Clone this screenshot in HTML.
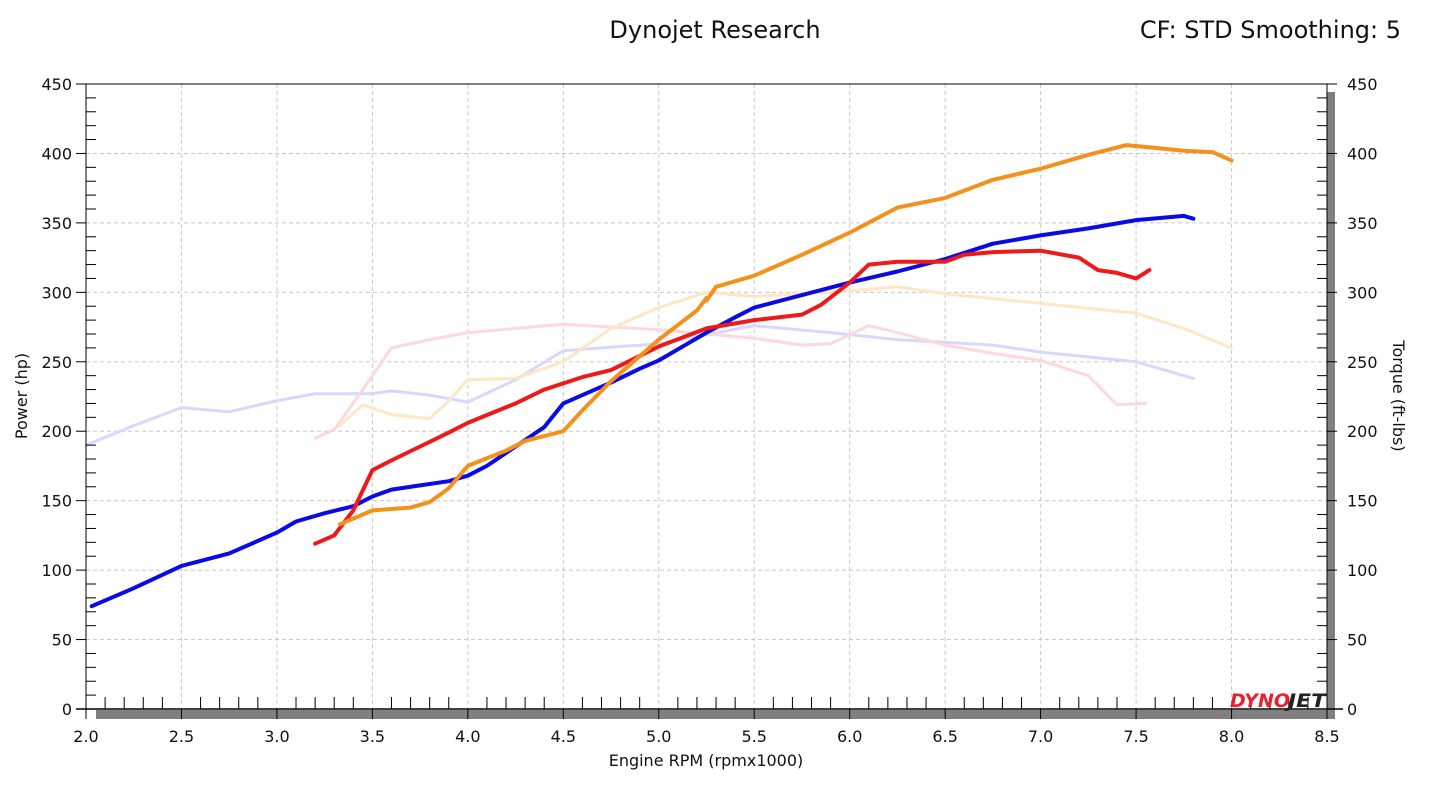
<!DOCTYPE html>
<html><head><meta charset="utf-8"><style>
html,body{margin:0;padding:0;background:#fff;}
svg{display:block;font-family:Tahoma,"DejaVu Sans","Liberation Sans",sans-serif;}
</style></head><body>
<svg id="chart" width="1431" height="804" viewBox="0 0 1431 804">
<text x="715" y="38" font-size="24" text-anchor="middle" fill="#111">Dynojet Research</text>
<text x="1401" y="38" font-size="24" text-anchor="end" fill="#111">CF: STD Smoothing: 5</text>
<text x="706" y="766" font-size="16" text-anchor="middle" fill="#111">Engine RPM (rpmx1000)</text>
<text transform="translate(27,396) rotate(-90)" font-size="16" text-anchor="middle" fill="#111">Power (hp)</text>
<text transform="translate(1393,396) rotate(90)" font-size="16" text-anchor="middle" fill="#111">Torque (ft-lbs)</text>
<g id="grid"></g>
<g id="series"></g>
<g id="axes"></g>
<g><text x="1230" y="707" font-size="19" font-weight="bold" font-style="italic" fill="#e8202f" textLength="60" lengthAdjust="spacingAndGlyphs">DYNO</text><text x="1288" y="707" font-size="19" font-weight="bold" font-style="italic" fill="#222" textLength="38" lengthAdjust="spacingAndGlyphs">JET</text></g>
</svg>
<script>
const xTicks=[2.0,2.5,3.0,3.5,4.0,4.5,5.0,5.5,6.0,6.5,7.0,7.5,8.0,8.5];
const yTicks=[0,50,100,150,200,250,300,350,400,450];
const blueRpm=[2.03,2.25,2.5,2.75,3.0,3.1,3.25,3.4,3.5,3.6,3.75,3.9,4.0,4.1,4.25,4.4,4.5,4.6,4.75,4.9,5.0,5.1,5.25,5.4,5.5,5.75,6.0,6.25,6.5,6.75,7.0,7.25,7.5,7.75,7.8];
const bluePower=[74,87,103,112,127,135,141,146,153,158,161,164,168,175,189,203,220,226,235,245,251,259,271,282,289,298,307,315,324,335,341,346,352,355,353];
const redRpm=[3.2,3.3,3.4,3.5,3.6,3.75,3.9,4.0,4.25,4.4,4.6,4.75,5.0,5.25,5.5,5.75,5.85,6.0,6.1,6.25,6.5,6.6,6.75,7.0,7.2,7.3,7.4,7.5,7.57];
const redPower=[119,125,143,172,179,189,199,206,220,230,239,244,261,274,280,284,291,307,320,322,322,327,329,330,325,316,314,310,316];
const orangeRpm=[3.33,3.5,3.7,3.8,3.9,4.0,4.2,4.3,4.5,4.6,4.75,5.0,5.2,5.25,5.25,5.3,5.5,5.75,6.0,6.25,6.5,6.75,7.0,7.25,7.45,7.6,7.75,7.9,8.0];
const orangePower=[133,143,145,149,159,175,186,193,200,215,236,266,287,296,294,304,312,327,343,361,368,381,389,399,406,404,402,401,395];
const blueTqRpm=[2.0,2.25,2.5,2.75,3.0,3.2,3.5,3.6,3.8,4.0,4.25,4.5,5.0,5.5,5.9,6.25,6.75,7.0,7.5,7.8];
const blueTorque=[190,204,217,214,222,227,227,229,226,221,237,258,263,276,271,266,262,257,250,238];
const redTqRpm=[3.2,3.3,3.45,3.6,3.8,4.0,4.5,5.0,5.5,5.75,5.9,6.1,6.25,6.5,6.75,7.0,7.25,7.4,7.55];
const redTorque=[195,201,230,260,266,271,277,273,267,262,263,276,271,262,256,251,240,219,220];
const orangeTqRpm=[3.33,3.45,3.6,3.8,3.9,4.0,4.25,4.5,4.75,5.0,5.25,5.5,6.0,6.25,6.5,7.0,7.5,7.75,8.0];
const orangeTorque=[204,219,212,209,222,237,238,250,274,289,300,297,301,304,299,292,285,274,260];

const X0=86,X1=1327,Y0=709,Y1=84;
const xs=v=>X0+(v-2)/(8.5-2)*(X1-X0);
const ys=v=>Y0-v/450*(Y0-Y1);
const NS="http://www.w3.org/2000/svg";
function mk(tag,attrs,parent){const e=document.createElementNS(NS,tag);for(const k in attrs)e.setAttribute(k,attrs[k]);parent.appendChild(e);return e;}
const grid=document.getElementById('grid'),axes=document.getElementById('axes'),series=document.getElementById('series');
xTicks.forEach(t=>{if(t>2&&t<8.5){const l=mk('line',{x1:xs(t),x2:xs(t),y1:Y1,y2:Y0,stroke:'#c8c8c8','stroke-dasharray':'4,3'},grid);

}});
yTicks.forEach(t=>{if(t>0&&t<450){const l=mk('line',{x1:X0,x2:X1,y1:ys(t),y2:ys(t),stroke:'#c8c8c8','stroke-dasharray':'4,3'},grid);

}});
// shadow bars
const sb=mk('rect',{x:96,y:Y0+1,width:X1-96+8,height:9,fill:'#808080'},axes);


const rb=mk('rect',{x:X1,y:92,width:8,height:Y0-92+10,fill:'#808080'},axes);


mk('line',{x1:X0,x2:X1,y1:Y1,y2:Y1,stroke:'#000'},axes);
mk('line',{x1:X0-10,x2:X1+16,y1:Y0,y2:Y0,stroke:'#000','stroke-width':1.5},axes);
mk('line',{x1:X0,x2:X0,y1:Y1,y2:Y0+10,stroke:'#000'},axes);
mk('line',{x1:X1,x2:X1,y1:Y1,y2:Y0+10,stroke:'#000'},axes);
for(let i=0;i<=65;i++){const v=2+i*0.1;const x=xs(v);
 if(i%5===0){mk('line',{x1:x,x2:x,y1:Y0,y2:Y0+10,stroke:'#000'},axes);}
 else mk('line',{x1:x,x2:x,y1:Y0-12,y2:Y0,stroke:'#000'},axes);}
for(let i=0;i<=45;i++){const y=ys(i*10);
 if(i%5===0){mk('line',{x1:X0-10,x2:X0,y1:y,y2:y,stroke:'#000'},axes);mk('line',{x1:X1,x2:X1+10,y1:y,y2:y,stroke:'#000'},axes);}
 else{mk('line',{x1:X0,x2:X0+10,y1:y,y2:y,stroke:'#000'},axes);mk('line',{x1:X1-10,x2:X1,y1:y,y2:y,stroke:'#000'},axes);}}
xTicks.forEach(t=>{const e=mk('text',{x:xs(t),y:Y0+33,'font-size':16,'text-anchor':'middle',fill:'#111'},axes);e.textContent=t.toFixed(1);

});
yTicks.forEach(t=>{const a=mk('text',{x:X0-14,y:ys(t)+6,'font-size':16,'text-anchor':'end',fill:'#111'},axes);a.textContent=t;


const b=mk('text',{x:X1+20,y:ys(t)+6,'font-size':16,'text-anchor':'start',fill:'#111'},axes);b.textContent=t;

});
function line(rx,vy,color,w,name){const d=rx.map((r,i)=>(i?'L':'M')+xs(r).toFixed(1)+','+ys(vy[i]).toFixed(1)).join(' ');
const p=mk('path',{d:d,fill:'none',stroke:color,'stroke-width':w,'stroke-linejoin':'round','stroke-linecap':'round'},series);

}
line(blueTqRpm,blueTorque,'#d8d8ff',3,'blue-torque-line');
line(redTqRpm,redTorque,'#ffd8dc',3,'red-torque-line');
line(orangeTqRpm,orangeTorque,'#ffe6c4',3,'orange-torque-line');
line(bluePower.length?blueRpm:[],bluePower,'#0a0ae6',4,'blue-power-line');
line(redRpm,redPower,'#ee1a1a',4,'red-power-line');
line(orangeRpm,orangePower,'#f5901a',4,'orange-power-line');
</script>
</body></html>
